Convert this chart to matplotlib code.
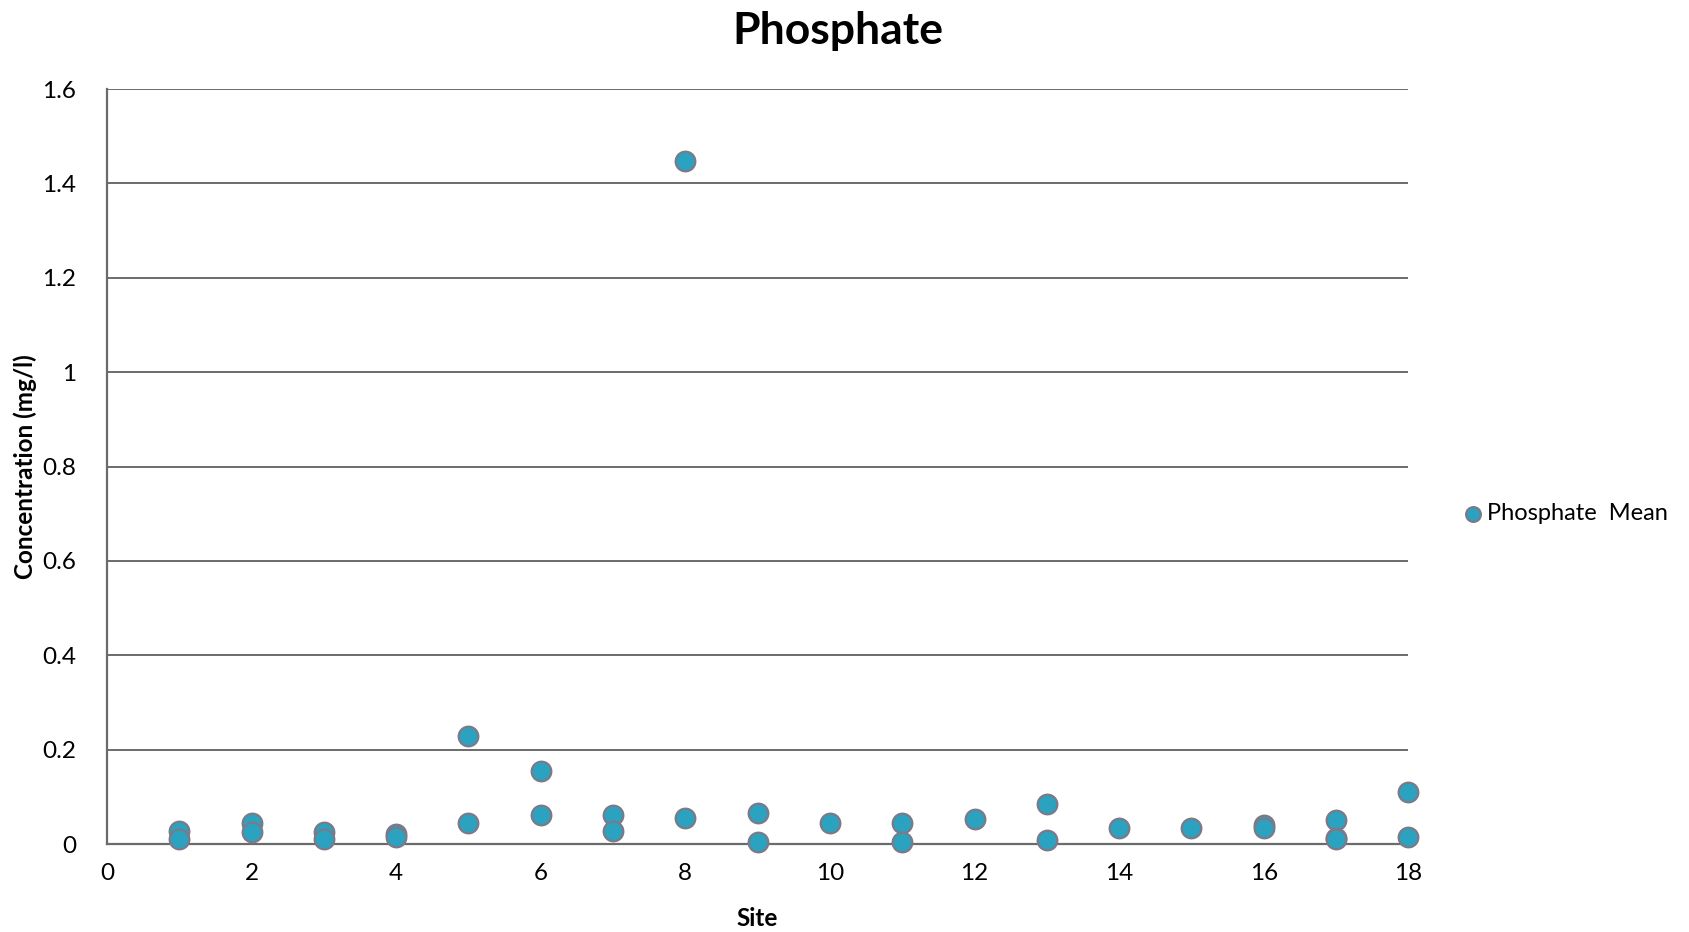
"""Phosphate concentration by site, scatter of sample means."""

import matplotlib.pyplot as plt
from matplotlib.ticker import FuncFormatter

plt.rcParams['font.family'] = ['Lato', 'DejaVu Sans']

# Phosphate means per site (mg/l)
sites = [1, 1, 2, 2, 3, 3, 4, 4, 5, 5, 6, 6, 7, 7, 8, 8, 9, 9,
         10, 11, 11, 12, 13, 13, 14, 15, 16, 16, 17, 17, 17, 18, 18]
phosphate_mean = [0.028, 0.010, 0.045, 0.026, 0.026, 0.010, 0.021, 0.014,
                  0.229, 0.045, 0.155, 0.061, 0.061, 0.027, 1.448, 0.056,
                  0.066, 0.005, 0.044, 0.044, 0.005, 0.053, 0.084, 0.008,
                  0.035, 0.035, 0.040, 0.035, 0.051, 0.012, 0.010, 0.111, 0.014]

x_ticks = list(range(0, 19, 2))
y_ticks = [0, 0.2, 0.4, 0.6, 0.8, 1.0, 1.2, 1.4, 1.6]

grid_col = '#6b6b6b'
marker_col = '#2ba2bf'
edge_col = '#7a7a88'

fig = plt.figure(figsize=(16.9, 9.32), dpi=100)
ax = fig.add_axes([0.0633, 0.0944, 0.7700, 0.8101])

ax.scatter(sites, phosphate_mean, s=200, color=marker_col, edgecolor=edge_col,
           linewidth=1.6, zorder=3, label='Phosphate  Mean', clip_on=False)

ax.set_xlim(0, 18)
ax.set_ylim(0, 1.6)
ax.set_xticks(x_ticks)
ax.set_yticks(y_ticks)
ax.yaxis.set_major_formatter(FuncFormatter(lambda v, p: f'{v:g}'))
ax.tick_params(length=0, labelsize=17.5, pad=14)
ax.tick_params(axis='y', pad=22)

ax.grid(axis='y', color=grid_col, linewidth=1.4, zorder=1)
ax.set_axisbelow(True)
for side in ['top', 'right']:
    ax.spines[side].set_visible(False)
for side in ['left', 'bottom']:
    ax.spines[side].set_color(grid_col)
    ax.spines[side].set_linewidth(1.6)

ax.set_xlabel('Site', fontsize=17.5, fontweight='bold', labelpad=16)
ax.set_ylabel('Concentration (mg/l)', fontsize=17.5, fontweight='bold', labelpad=4)

fig.text(0.496, 0.953, 'Phosphate', ha='center', va='baseline',
         fontsize=32, fontweight='bold')

ax.legend(loc='center left', bbox_to_anchor=(1.035, 0.438), frameon=False,
          fontsize=17, handletextpad=0.2, handlelength=0.8, markerscale=0.75,
          borderaxespad=0)

fig.savefig('out.png', dpi=100)
